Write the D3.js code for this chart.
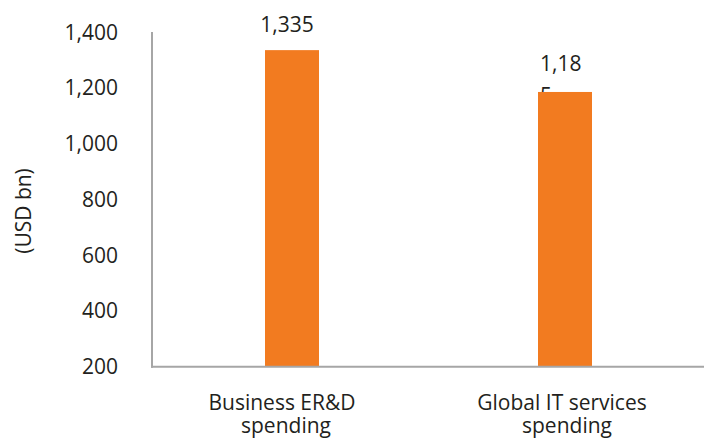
<!DOCTYPE html>
<html><head><meta charset="utf-8">
<script src="https://cdn.jsdelivr.net/npm/d3@7"></script>
<style>body{margin:0;background:#fff}svg{display:block}text{font-family:"Open Sans",sans-serif;fill:#231f20}</style>
</head><body><svg id="c" width="704" height="441"></svg>
<script>
const categories = [["Business ER&D","spending"],["Global IT services","spending"]];
const values = [1335, 1185];
const valueLabels = [["1,335"],["1,18","5"]];
const yTicks = [200,400,600,800,1000,1200,1400];
const yTitle = "(USD bn)";

const svg = d3.select("#c");
const axisX = 152, axisRight = 704;
const m = {l:155.5, r:701.5, t:32, b:366.7};
const x = d3.scaleBand().domain(d3.range(categories.length)).range([m.l, m.r]);
const y = d3.scaleLinear().domain([200,1400]).range([m.b, m.t]);
const fmt = d3.format(",");
const fs = 21;

// y tick labels
svg.append("g").selectAll("text").data(yTicks).join("text")
  .attr("x", 118).attr("y", d=>y(d)).attr("dy","0.36em")
  .attr("text-anchor","end").attr("font-size",fs).text(d=>fmt(d));

// y title
svg.append("text").attr("transform",`translate(31,211) rotate(-90)`)
  .attr("text-anchor","middle").attr("font-size",fs).text(yTitle);

const bw = 54;
// value labels (drawn before bars so bar covers wrapped part)
values.forEach((v,i)=>{
  const cx = x(i)+x.bandwidth()/2;
  const lines = valueLabels[i];
  if(lines.length===1){
    svg.append("text").attr("font-size",fs).attr("x",cx-5).attr("y",y(v)-18)
      .attr("text-anchor","middle").text(lines[0]);
  } else {
    lines.forEach((s,k)=>{
      svg.append("text").attr("font-size",fs).attr("x",cx-25).attr("y",y(v)-21+k*32).text(s);
    });
  }
});

svg.append("g").selectAll("rect").data(values).join("rect")
  .attr("x",(d,i)=>x(i)+x.bandwidth()/2-bw/2).attr("width",bw)
  .attr("y",d=>y(d)).attr("height",d=>y(200)-y(d))
  .attr("fill","#F27B20");

// axes lines
svg.append("line").attr("x1",axisX).attr("x2",axisX).attr("y1",m.t).attr("y2",m.b+1)
  .attr("stroke","#a6a6a6").attr("stroke-width",2);
svg.append("line").attr("x1",axisX-1).attr("x2",axisRight).attr("y1",m.b).attr("y2",m.b)
  .attr("stroke","#a6a6a6").attr("stroke-width",2);

// category labels
const catShift = [[-10,-6],[-3,2]];
categories.forEach((c,i)=>{
  const cx = x(i)+x.bandwidth()/2;
  c.forEach((s,k)=>svg.append("text").attr("font-size",fs).attr("text-anchor","middle")
    .attr("x",cx+catShift[i][k]).attr("y",410+k*23).text(s));
});
</script></body></html>
